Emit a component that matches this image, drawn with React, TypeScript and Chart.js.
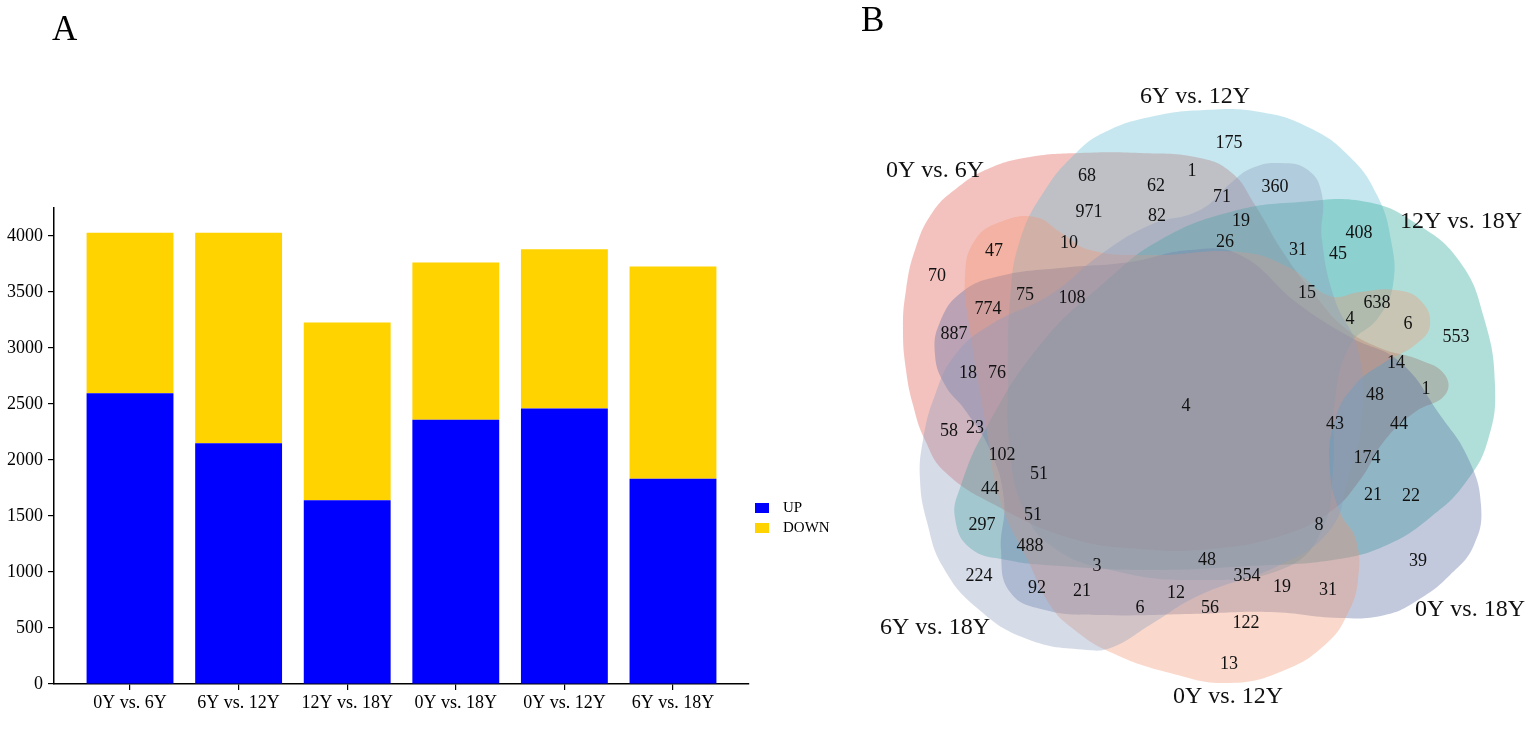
import React, { useEffect, useRef } from "react";
import { Chart, registerables } from "chart.js";

Chart.register(...registerables);

// ---------------- Panel A data ----------------
const categories = ["0Y vs. 6Y", "6Y vs. 12Y", "12Y vs. 18Y", "0Y vs. 18Y", "0Y vs. 12Y", "6Y vs. 18Y"];
const upValues = [2595, 2150, 1640, 2360, 2460, 1833];
const downValues = [1435, 1880, 1588, 1403, 1421, 1894];
const seriesNames = ["UP", "DOWN"];
const seriesColors = ["#0000FF", "#FFD300"];
const yTicks = [0, 500, 1000, 1500, 2000, 2500, 3000, 3500, 4000];
const yMax = 4250;

// ---------------- Panel B data ----------------
const vennSetNames = ["0Y vs. 6Y", "6Y vs. 12Y", "12Y vs. 18Y", "0Y vs. 18Y", "0Y vs. 12Y", "6Y vs. 18Y"];
const vennCounts = [
  175, 1, 62, 68, 971, 82, 71, 360, 19, 26, 408, 31, 45, 10, 47, 70, 75, 108, 774, 15,
  638, 4, 6, 553, 887, 14, 1, 18, 76, 48, 4, 58, 23, 43, 44, 102, 51, 174, 44, 21,
  22, 297, 51, 8, 488, 48, 39, 224, 3, 92, 21, 354, 19, 31, 6, 12, 56, 122, 13,
];
// label anchor of each region count (layout, in the diagram's coordinate system)
const vennCountPos = [
  [1229, 143], [1192, 171], [1156, 186], [1087, 176], [1089, 212], [1157, 216], [1222, 197], [1275, 187], [1241, 221], [1225, 242],
  [1359, 233], [1298, 250], [1338, 254], [1069, 243], [994, 251], [937, 276], [1025, 295], [1072, 298], [988, 309], [1307, 293],
  [1377, 303], [1350, 319], [1408, 324], [1456, 337], [954, 334], [1396, 363], [1426, 389], [968, 373], [997, 373], [1375, 395],
  [1186, 406], [949, 431], [975, 428], [1335, 424], [1399, 424], [1002, 455], [1039, 474], [1367, 458], [990, 489], [1373, 495],
  [1411, 496], [982, 525], [1033, 515], [1319, 525], [1030, 546], [1207, 560], [1418, 561], [979, 576], [1097, 566], [1037, 588],
  [1082, 591], [1247, 576], [1282, 587], [1328, 590], [1140, 608], [1176, 593], [1210, 608], [1246, 623], [1229, 664],
];
const vennSetLabelPos = [[935, 171], [1195, 97], [1461, 222], [1470, 610], [1228, 697], [935, 628]];
const vennColors = [
  "rgba(224,86,75,0.36)",
  "rgba(98,189,212,0.36)",
  "rgba(35,166,149,0.36)",
  "rgba(86,104,161,0.36)",
  "rgba(241,149,115,0.36)",
  "rgba(138,155,189,0.36)",
];
// outline of each set (layout geometry)
const vennShapes = [
  [[1200, 158], [1140, 153], [1080, 153], [1030, 157], [990, 168], [957, 188], [932, 213], [915, 250], [906, 290], [903, 330],
   [906, 370], [913, 405], [925, 440], [945, 472], [995, 505], [1070, 538], [1140, 549], [1210, 549], [1280, 536], [1330, 512],
   [1360, 480], [1385, 440], [1415, 412], [1445, 395], [1445, 375], [1420, 360], [1380, 348], [1345, 328], [1315, 295], [1285, 255],
   [1255, 205], [1232, 173]],
  [[1077, 152], [1105, 132], [1150, 117], [1205, 110], [1260, 112], [1310, 128], [1350, 157], [1377, 195], [1391, 240], [1393, 285],
   [1378, 318], [1350, 345], [1335, 400], [1333, 470], [1322, 530], [1285, 568], [1200, 580], [1110, 570], [1050, 545], [1022, 505],
   [1010, 450], [1008, 380], [1010, 300], [1020, 240], [1045, 190]],
  [[1160, 240], [1230, 212], [1300, 202], [1367, 202], [1417, 224], [1460, 262], [1484, 318], [1495, 385], [1488, 440], [1466, 482],
   [1432, 516], [1387, 545], [1333, 560], [1250, 566], [1150, 570], [1060, 566], [1007, 560], [970, 548], [955, 518], [960, 488],
   [985, 430], [1040, 345], [1105, 282]],
  [[1240, 255], [1297, 303], [1350, 337], [1400, 362], [1440, 415], [1468, 458], [1481, 505], [1474, 545], [1450, 575], [1418, 600],
   [1385, 615], [1340, 618], [1270, 612], [1190, 614], [1100, 615], [1045, 610], [1010, 592], [1001, 550], [1004, 500], [990, 450],
   [965, 410], [945, 385], [935, 355], [940, 322], [962, 292], [1000, 276], [1060, 268], [1130, 262], [1190, 250]],
  [[1072, 628], [1110, 652], [1170, 673], [1230, 683], [1285, 670], [1327, 643], [1348, 613], [1358, 580], [1356, 540], [1340, 512],
   [1330, 470], [1335, 420], [1355, 385], [1385, 362], [1415, 345], [1430, 325], [1420, 300], [1395, 290], [1360, 292], [1330, 296],
   [1290, 268], [1240, 252], [1150, 255], [1090, 250], [1060, 232], [1035, 217], [1000, 222], [975, 240], [965, 275], [970, 330],
   [985, 420], [1000, 500], [1030, 565], [1050, 605]],
  [[923, 440], [935, 395], [955, 355], [990, 325], [1050, 295], [1100, 255], [1150, 225], [1200, 210], [1232, 182], [1252, 168],
   [1280, 163], [1308, 170], [1322, 195], [1322, 240], [1335, 300], [1358, 350], [1362, 420], [1348, 480], [1330, 530], [1280, 565],
   [1200, 595], [1150, 625], [1113, 647], [1087, 650], [1027, 639], [977, 608], [943, 567], [927, 522], [920, 480]],
];

const SERIF = "'Liberation Serif', 'Times New Roman', serif";

// ---------------- plugins ----------------
const barLegendPlugin = {
  id: "barLegend",
  afterDraw(chart: any) {
    const { ctx, chartArea } = chart;
    const x = chartArea.right + 6;
    const y0 = chartArea.top + 295;
    chart.data.datasets.forEach((ds: any, i: number) => {
      ctx.save();
      ctx.fillStyle = ds.backgroundColor;
      ctx.fillRect(x, y0 + i * 20, 14, 10);
      ctx.fillStyle = "#000";
      ctx.font = `15px ${SERIF}`;
      ctx.textBaseline = "middle";
      ctx.textAlign = "left";
      ctx.fillText(ds.label, x + 28, y0 + i * 20 + 5.5);
      ctx.restore();
    });
  },
};

const closedShapePlugin = {
  id: "closedShape",
  afterDatasetUpdate(chart: any, args: any) {
    const ds = chart.data.datasets[args.index];
    if (!ds || !ds.closedShape) return;
    const line = chart.getDatasetMeta(args.index).dataset;
    if (!line) return;
    line._loop = true;
    line._fullLoop = true;
    delete line._segments;
    delete line._path;
    line._pointsUpdated = false;
  },
};

const vennTextPlugin = {
  id: "vennText",
  afterDatasetsDraw(chart: any) {
    const { ctx } = chart;
    chart.data.datasets.forEach((ds: any, i: number) => {
      if (!ds.texts) return;
      const meta = chart.getDatasetMeta(i);
      ctx.save();
      ctx.font = ds.textFont;
      ctx.fillStyle = "#111";
      ctx.textAlign = "center";
      ctx.textBaseline = "middle";
      meta.data.forEach((el: any, j: number) => {
        ctx.fillText(String(ds.texts[j]), el.x, el.y);
      });
      ctx.restore();
    });
  },
};

export default function App() {
  const barRef = useRef<HTMLCanvasElement>(null);
  const vennRef = useRef<HTMLCanvasElement>(null);

  useEffect(() => {
    const tickFont = { family: SERIF, size: 18 };
    const axisGrid = { offset: false, drawOnChartArea: false, drawTicks: true, tickLength: 6, color: "#000", lineWidth: 1.2 };
    const bar = new Chart(barRef.current as HTMLCanvasElement, {
      type: "bar",
      data: {
        datasets: [upValues, downValues].map((vals, s) => ({
          label: seriesNames[s],
          data: vals.map((v, i) => ({ x: i, y: v })),
          backgroundColor: seriesColors[s],
          borderWidth: 0,
          barPercentage: 0.8,
          categoryPercentage: 1,
        })),
      } as any,
      options: {
        animation: false,
        responsive: false,
        layout: { padding: { top: 208, right: 101, left: 0, bottom: 0 } },
        scales: {
          x: {
            type: "linear",
            stacked: true,
            min: -0.7,
            max: 5.7,
            offset: false,
            afterBuildTicks: (s: any) => {
              s.ticks = categories.map((_, i) => ({ value: i }));
            },
            afterFit: (s: any) => {
              s.height = 62;
            },
            ticks: {
              callback: (v: any) => categories[v],
              autoSkip: false,
              maxRotation: 0,
              minRotation: 0,
              font: tickFont,
              color: "#000",
              padding: 2,
            },
            grid: axisGrid,
            border: { display: true, color: "#000", width: 1.5 },
          },
          y: {
            type: "linear",
            stacked: true,
            min: 0,
            max: yMax,
            afterBuildTicks: (s: any) => {
              s.ticks = yTicks.map((v) => ({ value: v }));
            },
            afterFit: (s: any) => {
              s.width = 54;
            },
            ticks: {
              callback: (v: any) => String(v),
              font: tickFont,
              color: "#000",
              padding: 5,
            },
            grid: axisGrid,
            border: { display: true, color: "#000", width: 1.5 },
          },
        },
        plugins: { legend: { display: false }, tooltip: { enabled: false } },
      } as any,
      plugins: [barLegendPlugin],
    });

    const shapeDatasets = vennSetNames.map((name, i) => ({
      type: "line",
      label: name,
      data: vennShapes[i].map(([x, y]) => ({ x, y })),
      fill: "shape",
      backgroundColor: vennColors[i],
      borderColor: "rgba(0,0,0,0)",
      borderWidth: 0,
      pointRadius: 0,
      tension: 0.45,
      spanGaps: true,
      closedShape: true,
      order: 10 - i,
    }));
    const countDataset = {
      type: "scatter",
      label: "counts",
      data: vennCountPos.map(([x, y]) => ({ x, y })),
      pointRadius: 0,
      showLine: false,
      texts: vennCounts,
      textFont: `18px ${SERIF}`,
      order: 0,
    };
    const nameDataset = {
      type: "scatter",
      label: "sets",
      data: vennSetLabelPos.map(([x, y]) => ({ x, y })),
      pointRadius: 0,
      showLine: false,
      texts: vennSetNames,
      textFont: `24px ${SERIF}`,
      order: 0,
    };

    const venn = new Chart(vennRef.current as HTMLCanvasElement, {
      type: "line",
      data: { datasets: [...shapeDatasets, countDataset, nameDataset] } as any,
      options: {
        animation: false,
        responsive: false,
        layout: { padding: 0 },
        scales: {
          x: { type: "linear", min: 850, max: 1536, display: false },
          y: { type: "linear", min: 0, max: 746, reverse: true, display: false },
        },
        plugins: { legend: { display: false }, tooltip: { enabled: false } },
      } as any,
      plugins: [closedShapePlugin, vennTextPlugin],
    });

    return () => {
      bar.destroy();
      venn.destroy();
    };
  }, []);

  const panelLabel: React.CSSProperties = {
    position: "absolute",
    fontFamily: SERIF,
    fontSize: 35,
    lineHeight: "normal",
    color: "#000",
  };

  return (
    <div style={{ position: "absolute", left: 0, top: 0, width: 1536, height: 746, background: "#fff", overflow: "hidden" }}>
      <canvas ref={barRef} width={850} height={746} style={{ position: "absolute", left: 0, top: 0 }} />
      <canvas ref={vennRef} width={686} height={746} style={{ position: "absolute", left: 850, top: 0 }} />
      <div style={{ ...panelLabel, left: 52, top: 9 }}>A</div>
      <div style={{ ...panelLabel, left: 861, top: 0 }}>B</div>
    </div>
  );
}
